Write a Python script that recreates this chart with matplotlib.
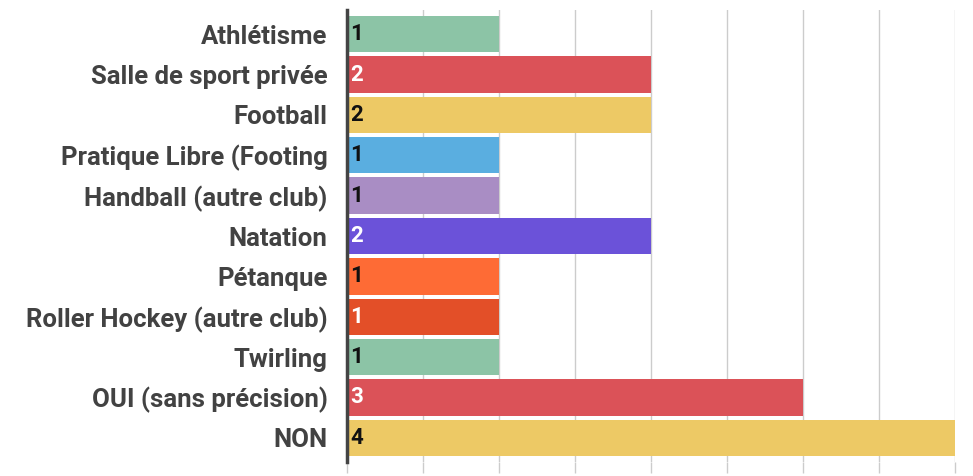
import matplotlib.pyplot as plt
import numpy as np

# --- Data ---
categories = [
    "Athlétisme",
    "Salle de sport privée",
    "Football",
    "Pratique Libre (Footing",
    "Handball (autre club)",
    "Natation",
    "Pétanque",
    "Roller Hockey (autre club)",
    "Twirling",
    "OUI (sans précision)",
    "NON",
]
values = [1, 2, 2, 1, 1, 2, 1, 1, 1, 3, 4]
bar_colors = ["#8CC4A6", "#DB5258", "#EDC965", "#5AAEE0", "#A98DC4", "#6B52D9",
              "#FE6B35", "#E34F28", "#8CC4A6", "#DB5258", "#EDC965"]
label_colors = ["#111111", "white", "#111111", "#111111", "#111111", "white",
                "#111111", "white", "#111111", "white", "#111111"]

plt.rcParams["font.family"] = ["Roboto", "DejaVu Sans"]

fig = plt.figure(figsize=(9.73, 4.76), dpi=100)
ax = fig.add_axes([347 / 973, 1 - 462 / 476, (955 - 347) / 973, 452 / 476])

y = np.arange(len(categories))
ax.barh(y, values, height=0.9, color=bar_colors, zorder=3)

# value labels inside the bars, at the left
for yi, v, c in zip(y, values, label_colors):
    ax.text(0.02, yi, str(v), ha="left", va="center", fontsize=16,
            fontweight="bold", color=c, zorder=4)

ax.set_xlim(0, 4)
ax.set_ylim(10.6, -0.6)
ax.set_yticks(y)
ax.set_yticklabels(categories, fontsize=18.5, fontweight="bold", color="#424242")
ax.set_xticks(np.arange(0, 4.01, 0.5))
ax.set_xticklabels([])

ax.grid(axis="x", color="#cccccc", linewidth=1, zorder=0)
ax.tick_params(axis="y", length=0, pad=14)
ax.tick_params(axis="x", length=8, color="#cccccc", width=1)

for s in ["top", "right", "bottom"]:
    ax.spines[s].set_visible(False)
ax.spines["left"].set_color("#444444")
ax.spines["left"].set_linewidth(2.5)
ax.spines["left"].set_zorder(5)

fig.savefig("out.png", dpi=100)
